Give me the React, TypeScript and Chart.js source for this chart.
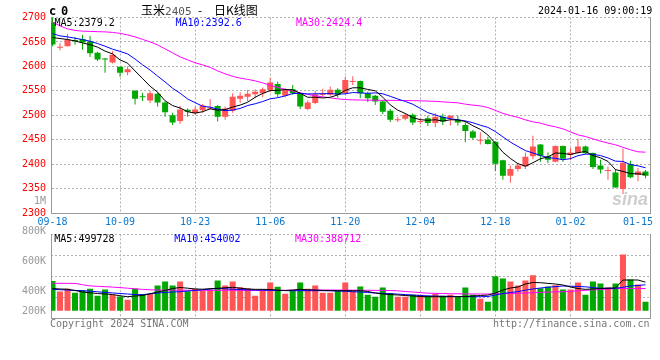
import React, { useEffect, useRef } from 'react';
import { Chart, registerables } from 'chart.js';

Chart.register(...registerables);

// ---------- DATA ----------
const dates = [
  '09-18', '09-19', '09-20', '09-21', '09-22', '09-25', '09-26', '09-27', '09-28',
  '10-09', '10-10', '10-11', '10-12', '10-13', '10-16', '10-17', '10-18', '10-19', '10-20',
  '10-23', '10-24', '10-25', '10-26', '10-27', '10-30', '10-31', '11-01', '11-02', '11-03',
  '11-06', '11-07', '11-08', '11-09', '11-10', '11-13', '11-14', '11-15', '11-16', '11-17',
  '11-20', '11-21', '11-22', '11-23', '11-24', '11-27', '11-28', '11-29', '11-30', '12-01',
  '12-04', '12-05', '12-06', '12-07', '12-08', '12-11', '12-12', '12-13', '12-14', '12-15',
  '12-18', '12-19', '12-20', '12-21', '12-22', '12-25', '12-26', '12-27', '12-28', '12-29',
  '01-02', '01-03', '01-04', '01-05', '01-08', '01-09', '01-10', '01-11', '01-12', '01-15', '01-16',
];
const labeledDates = ['09-18', '10-09', '10-23', '11-06', '11-20', '12-04', '12-18', '01-02', '01-15'];
const unlinedDates = ['09-18', '01-15'];

const open = [
  2690, 2638, 2641, 2653, 2656, 2651, 2628, 2616, 2608, 2599,
  2588, 2550, 2539, 2530, 2544, 2526, 2500, 2488, 2511, 2504,
  2510, 2514, 2519, 2497, 2509, 2534, 2538, 2543, 2545, 2551,
  2564, 2540, 2553, 2545, 2513, 2525, 2542, 2542, 2552, 2545,
  2568, 2570, 2545, 2540, 2528, 2509, 2490, 2493, 2501, 2486,
  2494, 2484, 2497, 2494, 2491, 2480, 2467, 2448, 2450, 2446,
  2408, 2376, 2390, 2395, 2416, 2440, 2416, 2405, 2437, 2419,
  2423, 2436, 2423, 2397, 2386, 2383, 2349, 2400, 2378, 2385,
];
const high = [
  2700, 2648, 2667, 2660, 2664, 2662, 2630, 2617, 2631, 2600,
  2600, 2551, 2546, 2550, 2546, 2528, 2505, 2519, 2514, 2518,
  2523, 2533, 2521, 2518, 2545, 2547, 2552, 2553, 2557, 2576,
  2569, 2555, 2562, 2547, 2530, 2550, 2554, 2559, 2555, 2579,
  2580, 2571, 2548, 2542, 2531, 2513, 2497, 2504, 2504, 2494,
  2499, 2504, 2503, 2500, 2499, 2487, 2470, 2465, 2456, 2447,
  2409, 2397, 2403, 2424, 2458, 2441, 2424, 2438, 2438, 2433,
  2452, 2438, 2424, 2409, 2395, 2390, 2432, 2407, 2392, 2388,
];
const low = [
  2641, 2633, 2641, 2644, 2634, 2619, 2611, 2587, 2606, 2579,
  2582, 2522, 2529, 2525, 2518, 2497, 2480, 2482, 2497, 2501,
  2505, 2511, 2487, 2491, 2505, 2525, 2528, 2535, 2537, 2547,
  2537, 2537, 2542, 2513, 2510, 2523, 2538, 2540, 2536, 2543,
  2562, 2535, 2527, 2521, 2502, 2486, 2486, 2490, 2480, 2482,
  2478, 2476, 2480, 2479, 2479, 2445, 2450, 2440, 2440, 2386,
  2368, 2362, 2385, 2390, 2410, 2405, 2402, 2404, 2405, 2408,
  2421, 2420, 2390, 2381, 2368, 2352, 2339, 2371, 2365, 2371,
];
const close = [
  2645, 2639, 2655, 2652, 2649, 2627, 2614, 2614, 2624, 2587,
  2594, 2534, 2537, 2545, 2526, 2506, 2485, 2512, 2507, 2512,
  2520, 2515, 2497, 2514, 2538, 2540, 2544, 2548, 2553, 2567,
  2543, 2552, 2545, 2518, 2526, 2543, 2545, 2552, 2542, 2572,
  2570, 2545, 2535, 2528, 2507, 2491, 2491, 2501, 2485, 2487,
  2484, 2497, 2487, 2499, 2485, 2468, 2454, 2450, 2441, 2401,
  2376, 2390, 2397, 2415, 2436, 2417, 2409, 2437, 2411, 2424,
  2436, 2422, 2394, 2389, 2387, 2352, 2403, 2373, 2385, 2376,
];
const ma5 = [
  2659, 2657, 2655, 2652, 2648, 2644.4, 2639.4, 2631.2, 2625.6, 2613.2,
  2606.6, 2590.6, 2575.2, 2559.4, 2547.2, 2529.6, 2519.8, 2514.8, 2507.2, 2504.4,
  2507.2, 2513.2, 2510.2, 2511.6, 2516.8, 2520.8, 2526.6, 2536.8, 2544.6, 2550.4,
  2551, 2552.6, 2552, 2545, 2536.8, 2536.8, 2535.4, 2536.8, 2541.6, 2550.8,
  2556.2, 2556.2, 2552.8, 2550, 2537, 2521.2, 2510.4, 2503.6, 2495, 2491,
  2489.6, 2490.8, 2488, 2490.8, 2490.4, 2487.2, 2478.6, 2471.2, 2459.6, 2442.8,
  2424.4, 2411.6, 2401, 2395.8, 2402.8, 2411, 2414.8, 2422.8, 2422, 2419.6,
  2423.4, 2426, 2417.4, 2413, 2405.6, 2388.8, 2385, 2380.8, 2380, 2379.2,
];
const ma10 = [
  2667, 2662.4, 2660.3, 2657.6, 2654.8, 2651.5, 2646.7, 2641.3, 2635.2, 2630.6,
  2625.5, 2615, 2603.2, 2592.5, 2580.2, 2568.1, 2555.2, 2545, 2533.3, 2525.8,
  2518.4, 2516.5, 2512.5, 2509.4, 2510.6, 2514, 2519.9, 2523.5, 2528.1, 2533.6,
  2535.9, 2539.6, 2544.4, 2544.8, 2543.6, 2543.9, 2544, 2544.4, 2543.3, 2543.8,
  2546.5, 2545.8, 2544.8, 2545.8, 2543.9, 2538.7, 2533.3, 2528.2, 2522.5, 2514,
  2505.4, 2500.6, 2495.8, 2492.9, 2490.7, 2488.4, 2484.7, 2479.6, 2475.2, 2466.6,
  2455.8, 2445.1, 2436.1, 2427.7, 2422.8, 2417.7, 2413.2, 2411.9, 2408.9, 2411.2,
  2417.2, 2420.4, 2420.1, 2417.5, 2412.6, 2406.1, 2405.5, 2399.1, 2396.5, 2392.6,
];
const ma30 = [
  2691, 2682.8, 2676.7, 2673.6, 2672, 2671.6, 2671, 2670.6, 2669.5, 2667.5,
  2664.4, 2660.3, 2655.2, 2650.1, 2644, 2635.8, 2627.6, 2619.4, 2613.3, 2607.2,
  2603.1, 2598, 2590.8, 2584.7, 2579.6, 2575.9, 2573.4, 2570.4, 2566.3, 2561.2,
  2557.1, 2553, 2549.3, 2545.8, 2542.7, 2539.7, 2537.6, 2535.6, 2533.5, 2532.1,
  2531.5, 2531.1, 2530.9, 2530.7, 2530.5, 2530.5, 2530.3, 2530.1, 2529.9, 2529.5,
  2529, 2528.4, 2527.4, 2526.4, 2525.4, 2522.7, 2520.7, 2519.2, 2515.8, 2510,
  2503.9, 2499.4, 2495.7, 2490.6, 2486.5, 2483.9, 2479.4, 2476.3, 2472.2, 2466.1,
  2459.9, 2456.4, 2451.7, 2447, 2443, 2439.5, 2434.4, 2429.3, 2425.2, 2424.4,
];
// volume in thousands of lots
const volume = [
  518, 334, 382, 316, 357, 382, 262, 369, 280, 250,
  191, 387, 292, 292, 440, 512, 440, 512, 339, 382,
  351, 369, 530, 440, 512, 411, 393, 262, 369, 494,
  417, 298, 357, 494, 382, 440, 316, 316, 351, 494,
  339, 423, 280, 245, 405, 310, 245, 245, 280, 280,
  262, 298, 262, 280, 245, 405, 280, 208, 155, 601,
  565, 512, 440, 530, 619, 393, 423, 446, 369, 369,
  494, 280, 512, 476, 405, 476, 982, 548, 459, 155,
];
const volMa5 = [
  388, 380, 376, 353, 327, 313, 301, 292, 283, 261,
  245, 257, 266, 297, 327, 353, 388, 406, 394, 380,
  376, 385, 392, 401, 410, 394, 380, 374, 374, 371,
  359, 352, 362, 374, 367, 362, 355, 350, 350, 350,
  350, 350, 336, 310, 292, 283, 275, 266, 257, 248,
  245, 245, 245, 245, 245, 248, 257, 266, 273, 310,
  362, 397, 415, 467, 493, 490, 478, 467, 450, 415,
  388, 374, 380, 388, 394, 397, 537, 537, 537, 499.728,
];
const volMa10 = [
  374, 367, 362, 355, 350, 341, 331, 320, 311, 301,
  292, 282, 280, 296, 310, 318, 327, 332, 345, 355,
  366, 380, 390, 383, 376, 371, 364, 362, 359, 357,
  353, 352, 350, 350, 350, 350, 350, 350, 345, 340,
  332, 327, 318, 310, 303, 296, 291, 282, 275, 266,
  259, 256, 252, 250, 248, 247, 245, 245, 248, 275,
  301, 318, 334, 359, 380, 397, 410, 422, 432, 429,
  424, 418, 406, 392, 392, 392, 410, 432, 441, 454.002,
];
const volMa30 = [
  479, 479, 479, 478, 455, 434, 427, 420, 413, 404,
  394, 383, 373, 366, 362, 359, 359, 358, 358, 358,
  357, 357, 357, 357, 357, 356, 355, 355, 355, 356,
  357, 358, 359, 360, 361, 361, 362, 362, 361, 360,
  359, 358, 357, 356, 355, 353, 348, 336, 327, 317,
  306, 303, 301, 297, 296, 294, 292, 292, 292, 294,
  297, 301, 304, 310, 315, 320, 325, 329, 332, 339,
  348, 357, 364, 371, 380, 387, 390, 388, 387, 388.712,
];
const priceTickMin = 2300;
const priceTickMax = 2700;
const priceTickStep = 50;
const volumeAxisLabels = ['1M', '800K', '600K', '400K', '200K'];
const priceLegend = ['MA5:2379.2', 'MA10:2392.6', 'MA30:2424.4'];
const volumeLegend = ['MA5:499728', 'MA10:454002', 'MA30:388712'];

// ---------- STYLE ----------
const MONO = '"DejaVu Sans Mono", monospace';
const RED = '#ff5555';
const GREEN = '#00a800';
const GRID = '#b0b0b0';
const FRAME = '#999999';
const LINE_COLORS = ['#000000', '#0000ff', '#ff00ff'];

const idx = dates.map((_, i) => i);
const candleColors = idx.map((i) => (close[i] > open[i] ? RED : GREEN));
const labeledIdx = labeledDates.map((d) => dates.indexOf(d));
const unlinedIdx = unlinedDates.map((d) => dates.indexOf(d));

function makeX(showLabels: boolean) {
  return {
    type: 'linear',
    min: -0.2,
    max: 79.6,
    offset: false,
    afterBuildTicks: (s: any) => {
      s.ticks = labeledIdx.map((v) => ({ value: v }));
    },
    ticks: {
      display: showLabels,
      autoSkip: false,
      maxRotation: 0,
      padding: 3,
      color: '#0a78d0',
      font: { family: MONO, size: 10 },
      callback: (v: any) => dates[v],
    },
    grid: {
      offset: false,
      drawTicks: false,
      lineWidth: 1,
      color: (ctx: any) =>
        ctx.tick && unlinedIdx.includes(ctx.tick.value) ? 'rgba(0,0,0,0)' : GRID,
    },
    border: { display: true, color: FRAME, dash: [2, 2] },
    afterFit: (s: any) => {
      s.height = showLabels ? 19 : 0;
    },
  };
}

function rightFrame() {
  return {
    type: 'linear',
    position: 'right',
    min: 0,
    max: 1,
    ticks: { display: false },
    grid: { display: false, drawTicks: false },
    border: { display: true, color: FRAME },
    afterFit: (s: any) => {
      s.width = 0;
    },
  };
}

function lineDs(label: string, values: number[], color: string, order: number, yAxisID: string) {
  return {
    type: 'line',
    label,
    data: values.map((y, x) => ({ x, y })),
    borderColor: color,
    borderWidth: 1,
    pointRadius: 0,
    tension: 0,
    order,
    yAxisID,
  };
}

const baseOptions = {
  responsive: false,
  animation: false,
  devicePixelRatio: 1,
  events: [],
  plugins: { legend: { display: false }, tooltip: { enabled: false } },
};

const txt = (extra: any) => ({
  position: 'absolute',
  font: `10px ${MONO}`,
  lineHeight: '12px',
  whiteSpace: 'pre',
  ...extra,
});

export default function App() {
  const priceRef = useRef<HTMLCanvasElement>(null);
  const volRef = useRef<HTMLCanvasElement>(null);

  useEffect(() => {
    const price = new Chart(priceRef.current as HTMLCanvasElement, {
      type: 'bar',
      data: {
        datasets: [
          lineDs('MA5', ma5, LINE_COLORS[0], 0, 'y'),
          lineDs('MA10', ma10, LINE_COLORS[1], 1, 'y'),
          lineDs('MA30', ma30, LINE_COLORS[2], 2, 'y'),
          {
            type: 'bar',
            label: 'body',
            data: idx.map((i) => ({ x: i, y: [open[i], close[i]] })),
            backgroundColor: candleColors,
            barThickness: 6,
            minBarLength: 1,
            grouped: false,
            inflateAmount: 0,
            borderWidth: 0,
            order: 3,
            yAxisID: 'y',
          },
          {
            type: 'bar',
            label: 'wick',
            data: idx.map((i) => ({ x: i, y: [low[i], high[i]] })),
            backgroundColor: candleColors,
            barThickness: 1,
            grouped: false,
            inflateAmount: 0,
            borderWidth: 0,
            order: 4,
            yAxisID: 'y',
          },
        ] as any,
      },
      options: {
        ...baseOptions,
        layout: { padding: { top: 17.5, right: 10, left: 0, bottom: 0 } },
        scales: {
          x: makeX(true),
          y: {
            type: 'linear',
            position: 'left',
            min: priceTickMin,
            max: priceTickMax,
            ticks: {
              stepSize: priceTickStep,
              color: '#ff0000',
              padding: 5,
              font: { family: MONO, size: 10 },
              callback: (v: any) => String(v),
            },
            grid: { color: GRID, drawTicks: false },
            border: { display: true, color: FRAME, dash: [2, 2] },
            afterFit: (s: any) => {
              s.width = 51;
            },
          },
          yr: rightFrame(),
        },
      } as any,
    });

    const vol = new Chart(volRef.current as HTMLCanvasElement, {
      type: 'bar',
      data: {
        datasets: [
          lineDs('VMA5', volMa5.map((v) => v * 1000), LINE_COLORS[0], 0, 'yv'),
          lineDs('VMA10', volMa10.map((v) => v * 1000), LINE_COLORS[1], 1, 'yv'),
          lineDs('VMA30', volMa30.map((v) => v * 1000), LINE_COLORS[2], 2, 'yv'),
          {
            type: 'bar',
            label: 'volume',
            data: idx.map((i) => ({ x: i, y: volume[i] * 1000 })),
            backgroundColor: candleColors,
            barThickness: 6,
            grouped: false,
            inflateAmount: 0,
            borderWidth: 0,
            order: 3,
            yAxisID: 'yv',
          },
        ] as any,
      },
      options: {
        ...baseOptions,
        layout: { padding: { top: 2.3, right: 10, left: 0, bottom: 41.7 } },
        scales: {
          x: makeX(false),
          yv: {
            type: 'linear',
            position: 'left',
            min: -133000,
            max: 1337000,
            ticks: { display: false },
            grid: { display: false, drawTicks: false },
            border: { display: true, color: FRAME },
            afterFit: (s: any) => {
              s.width = 51;
            },
          },
          yg: {
            type: 'linear',
            position: 'left',
            min: 0,
            max: 4,
            ticks: { display: false, stepSize: 1 },
            grid: { color: GRID, drawTicks: false },
            border: { display: false, dash: [2, 2] },
            afterFit: (s: any) => {
              s.width = 0;
            },
          },
          yr: rightFrame(),
        },
      } as any,
    });

    return () => {
      price.destroy();
      vol.destroy();
    };
  }, []);

  const volLabelTops = [194.5, 224.7, 255.2, 284.5, 304.5];

  return (
    <div
      style={{
        position: 'fixed',
        left: 0,
        top: 0,
        width: 660,
        height: 360,
        background: '#ffffff',
        overflow: 'hidden',
      }}
    >
      <canvas
        ref={priceRef}
        width={660}
        height={232}
        style={{ position: 'absolute', left: 0, top: 0, width: 660, height: 232 }}
      />
      <canvas
        ref={volRef}
        width={660}
        height={128}
        style={{ position: 'absolute', left: 0, top: 232, width: 660, height: 128 }}
      />

      {/* header */}
      <div style={txt({ left: 49, top: 4, font: `bold 12px ${MONO}`, lineHeight: '14px', color: '#000' })}>c</div>
      <div style={txt({ left: 61, top: 4, font: `bold 12px ${MONO}`, lineHeight: '14px', color: '#000' })}>0</div>
      <div style={txt({ left: 141, top: 2.5, font: '12px "Noto Sans CJK SC"', lineHeight: '14px', color: '#000' })}>
        玉米<span style={{ font: `11px ${MONO}`, color: '#555' }}>2405</span>
      </div>
      <div style={txt({ left: 198, top: 2.5, font: '12px "Noto Sans CJK SC"', lineHeight: '14px', color: '#000' })}>-</div>
      <div style={txt({ left: 214, top: 2.5, font: '12px "Noto Sans CJK SC"', lineHeight: '14px', color: '#000' })}>日K线图</div>
      <div style={txt({ left: 538, top: 5.2, color: '#000' })}>2024-01-16 09:00:19</div>

      {/* price legend */}
      <div style={txt({ left: 54.5, top: 17.2, color: LINE_COLORS[0] })}>{priceLegend[0]}</div>
      <div style={txt({ left: 175.5, top: 17.2, color: LINE_COLORS[1] })}>{priceLegend[1]}</div>
      <div style={txt({ left: 296, top: 17.2, color: LINE_COLORS[2] })}>{priceLegend[2]}</div>

      {/* watermark */}
      <div
        style={txt({
          left: 612,
          top: 189,
          font: 'italic bold 18px "Liberation Sans"',
          lineHeight: '20px',
          color: 'rgba(190,190,190,0.75)',
        })}
      >
        sina
      </div>

      {/* volume axis labels */}
      {volumeAxisLabels.map((t, k) => (
        <div key={t} style={txt({ left: 0, width: 46, top: volLabelTops[k], textAlign: 'right', color: '#999' })}>
          {t}
        </div>
      ))}

      {/* volume legend */}
      <div style={txt({ left: 54.3, top: 232.5, color: LINE_COLORS[0] })}>{volumeLegend[0]}</div>
      <div style={txt({ left: 174.3, top: 232.5, color: LINE_COLORS[1] })}>{volumeLegend[1]}</div>
      <div style={txt({ left: 295, top: 232.5, color: LINE_COLORS[2] })}>{volumeLegend[2]}</div>

      {/* footer */}
      <div style={txt({ left: 50, top: 318, color: '#777' })}>Copyright 2024 SINA.COM</div>
      <div style={txt({ left: 0, width: 649.5, top: 318, textAlign: 'right', color: '#777' })}>
        http://finance.sina.com.cn
      </div>
    </div>
  );
}
